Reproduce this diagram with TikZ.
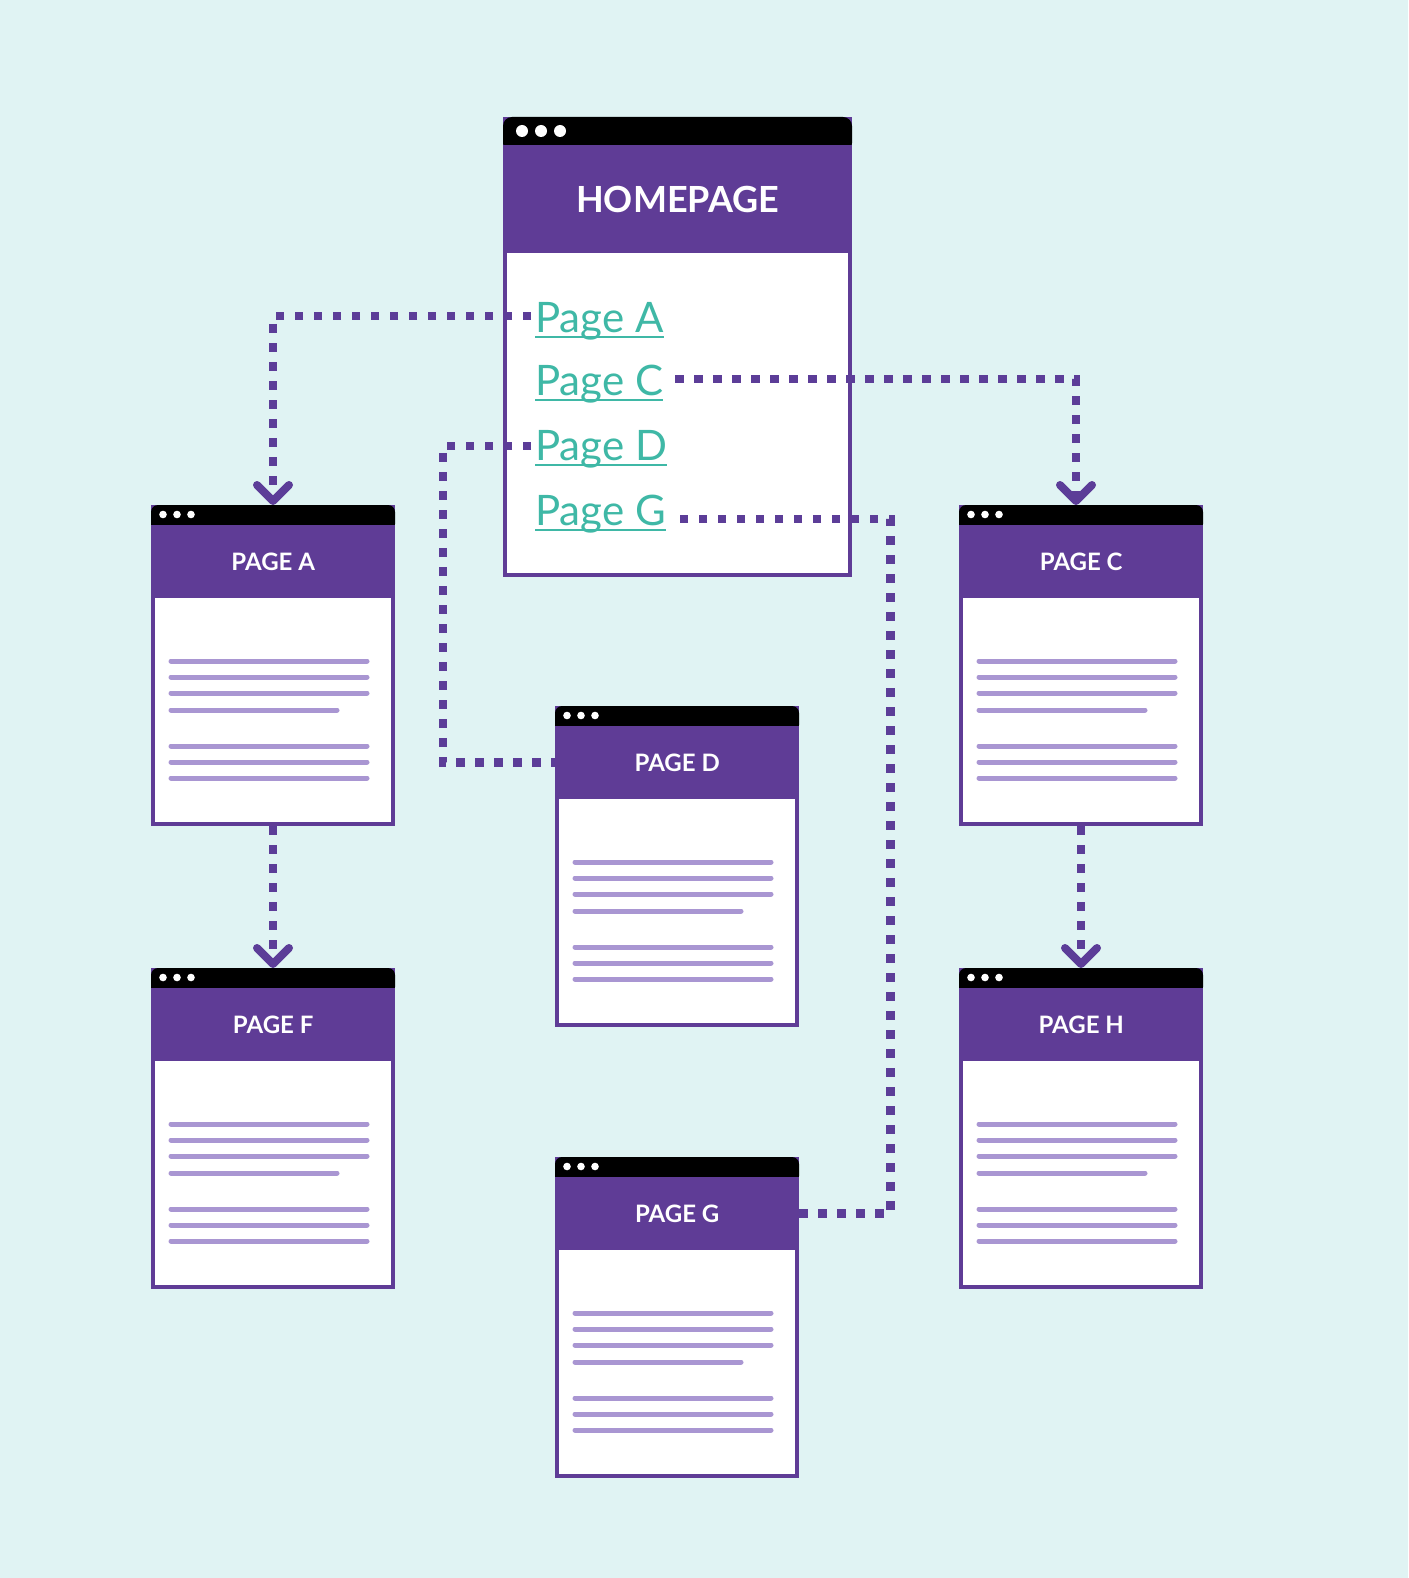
\documentclass[tikz,border=0pt]{standalone}
\usepackage{fontspec}
\setmainfont{Lato}
\usetikzlibrary{arrows.meta}
\definecolor{bgcyan}{HTML}{E0F3F3}
\definecolor{plum}{HTML}{5F3C96}
\definecolor{dotplum}{HTML}{5C3D98}
\definecolor{textline}{HTML}{A996D2}
\definecolor{linkteal}{HTML}{3FB8A6}
\begin{document}
\begin{tikzpicture}[x=1pt, y=-1pt,
  body/.style={draw=plum, line width=4pt, fill=white, minimum width=240pt, minimum height=317pt, inner sep=0pt},
  head/.style={fill=plum, text=white, font=\fontsize{24}{28}\selectfont\bfseries, minimum width=244pt, minimum height=73pt, inner sep=0pt},
  bar/.style={fill=black, rounded corners=7pt},
  winbtn/.style={fill=white},
  txt/.style={draw=textline, line width=5pt, line cap=round},
  linktext/.style={text=linkteal, font=\fontsize{42}{48}\selectfont, inner xsep=4pt, inner ysep=0pt, anchor=base west},
  uline/.style={draw=linkteal, line width=2pt},
  link/.style={draw=dotplum, line width=8.5pt, dash pattern=on 8.5pt off 10.5pt},
  tolink/.style={link, -{Straight Barb[length=16pt, width=32pt, line width=8pt, round]}},
]
\fill[bgcyan] (0,0) rectangle (1408,1578);
\useasboundingbox (0,0) rectangle (1408,1578);
% homepage window
\node[body, minimum width=345pt, minimum height=456pt] (home) at (677.5,347) {};
\fill[bar, rounded corners=9pt] (503,117) rectangle (852,152);
\node[head, minimum width=349pt, minimum height=108pt, font=\fontsize{36}{40}\selectfont\bfseries, anchor=north west] (home-h) at (503,145) {HOMEPAGE};
\foreach \i in {0,1,2} \fill[winbtn] (522+19*\i,131) circle (6pt);
\node[linktext] (la) at (531,332) {Page A};
\node[linktext] (lc) at (531,395) {Page C};
\node[linktext] (ld) at (531,460) {Page D};
\node[linktext] (lg) at (531,525) {Page G};
\foreach \l in {la,lc,ld,lg}
  \draw[uline] ([xshift=4pt,yshift=-5pt]\l.base west) -- ([xshift=-4pt,yshift=-5pt]\l.base east);
% page windows
\foreach \n/\x/\y/\t in {pa/151/505/PAGE A, pc/959/505/PAGE C, pd/555/706/PAGE D, pf/151/968/PAGE F, ph/959/968/PAGE H, pg/555/1157/PAGE G}{
  \node[body] (\n) at (\x+122,\y+160.5) {};
  \fill[bar] (\x,\y) rectangle (\x+244,\y+26);
  \node[head, anchor=north west] (\n-h) at (\x,\y+20) {\t};
  \foreach \i in {0,1,2} \fill[winbtn] (\x+12+14*\i,\y+9.5) circle (3.8pt);
  \foreach \ty/\tl in {156/196,172/196,188/196,205/166,241/196,257/196,273/196}
    \draw[txt] (\x+20,\y+\ty) -- ++(\tl,0);
}
% links
\draw[tolink] ([yshift=16pt]la.base west) -| (pa.north);
\draw[tolink] ([xshift=8pt,yshift=16pt]lc.base east) -| ([xshift=-5pt]pc.north);
\draw[link] ([yshift=14pt]ld.base west) -- ++(-88,0) |- (pd-h.west);
\draw[link] (pg-h.east) -- ++(91,0) |- ([xshift=6pt,yshift=6pt]lg.base east);
\draw[tolink] (pa.south) -- (pf.north);
\draw[tolink] (pc.south) -- (ph.north);
\end{tikzpicture}
\end{document}
